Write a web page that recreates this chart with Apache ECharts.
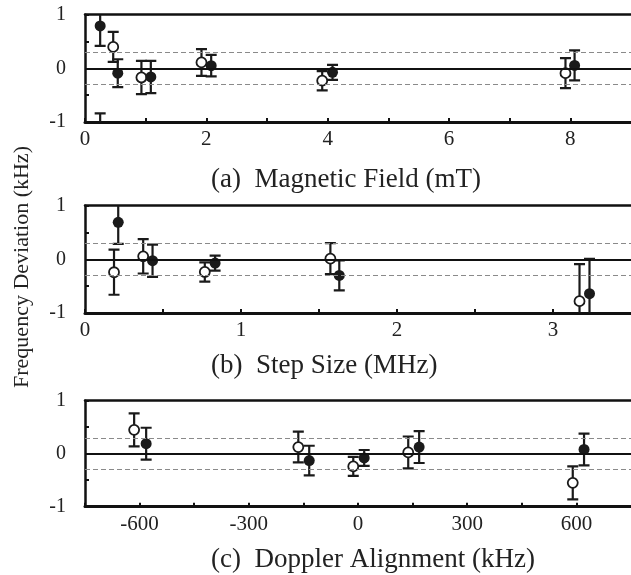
<!DOCTYPE html>
<html>
<head>
<meta charset="utf-8">
<script src="https://cdn.jsdelivr.net/npm/echarts@6/dist/echarts.min.js"></script>
<style>
html, body { margin: 0; padding: 0; background: #fff; }
#main { width: 631px; height: 575px; }
</style>
</head>
<body>
<div id="main"></div>
<script>
// (a) 磁场
var aOpenX = [0.25, 0.465, 0.93, 1.92, 3.91, 7.92];
var aOpenY = [-1.2, 0.40, -0.17, 0.11, -0.23, -0.09];
var aOpenE = [0.36, 0.28, 0.31, 0.25, 0.18, 0.28];
var aFillX = [0.25, 0.54, 1.085, 2.08, 4.08, 8.07];
var aFillY = [0.79, -0.09, -0.16, 0.05, -0.075, 0.055];
var aFillE = [0.37, 0.26, 0.30, 0.20, 0.14, 0.28];

// (b) 步长
var bOpenX = [0.186, 0.373, 0.768, 1.573, 3.17];
var bOpenY = [-0.24, 0.056, -0.235, 0.013, -0.78];
var bOpenE = [0.42, 0.32, 0.18, 0.29, 0.69];
var bFillX = [0.213, 0.433, 0.834, 1.63, 3.234];
var bFillY = [0.69, -0.025, -0.07, -0.30, -0.64];
var bFillE = [0.40, 0.30, 0.14, 0.28, 0.65];

// (c) 多普勒
var cOpenX = [-615, -164, -13, 138, 590];
var cOpenY = [0.45, 0.125, -0.24, 0.025, -0.55];
var cOpenE = [0.31, 0.29, 0.18, 0.30, 0.31];
var cFillX = [-582, -134, 17, 168, 621];
var cFillY = [0.19, -0.13, -0.08, 0.125, 0.08];
var cFillE = [0.30, 0.28, 0.15, 0.30, 0.30];

var titles = ['(a)  Magnetic Field (mT)', '(b)  Step Size (MHz)', '(c)  Doppler Alignment (kHz)'];
var yTitle = 'Frequency Deviation (kHz)';

var serif = '"Liberation Serif", "DejaVu Serif", serif';

function zip(xs, ys, es) {
	var out = [];
	for (var i = 0; i < xs.length; i++) out.push([xs[i], ys[i], es[i]]);
	return out;
}

function errRender(params, api) {
	var x = api.value(0), y = api.value(1), e = api.value(2);
	var top = api.coord([x, y + e]);
	var bot = api.coord([x, y - e]);
	var hw = 5.5;
	var st = { stroke: '#1a1a1a', lineWidth: 2.2 };
	return {
		type: 'group',
		children: [
			{ type: 'line', shape: { x1: top[0], y1: top[1], x2: bot[0], y2: bot[1] }, style: st },
			{ type: 'line', shape: { x1: top[0] - hw, y1: top[1], x2: top[0] + hw, y2: top[1] }, style: st },
			{ type: 'line', shape: { x1: bot[0] - hw, y1: bot[1], x2: bot[0] + hw, y2: bot[1] }, style: st }
		]
	};
}

var myChart = echarts.init(document.getElementById('main'));

var grids = [
	{ left: 85, top: 14.7, height: 107.3, right: -34.5 },
	{ left: 85, top: 205.7, height: 107.3, right: -17.5 },
	{ left: 85, top: 400.7, height: 106, right: 0 }
];
var xRanges = [
	{ min: 0, max: 9, interval: 1, fmt: function(v) { return v % 2 === 0 ? String(v) : ''; } },
	{ min: 0, max: 3.5, interval: 0.5, fmt: function(v) { return Number.isInteger(v) ? String(v) : ''; } },
	{ min: -750, max: 750, interval: 150, fmt: function(v) { return v % 300 === 0 ? String(v) : ''; } }
];
var panels = [
	[zip(aOpenX, aOpenY, aOpenE), zip(aFillX, aFillY, aFillE)],
	[zip(bOpenX, bOpenY, bOpenE), zip(bFillX, bFillY, bFillE)],
	[zip(cOpenX, cOpenY, cOpenE), zip(cFillX, cFillY, cFillE)]
];

var xAxes = [], yAxes = [], series = [];
grids.forEach(function(g, i) {
	var r = xRanges[i];
	xAxes.push({
		type: 'value', gridIndex: i, min: r.min, max: r.max, interval: r.interval,
		position: 'bottom',
		axisLine: { onZero: false, lineStyle: { color: '#111', width: 3 } },
		axisTick: { inside: true, length: 4, lineStyle: { color: '#111', width: 2 } },
		axisLabel: { formatter: r.fmt, color: '#222', fontFamily: serif, fontSize: 21, margin: 7, showMaxLabel: false },
		splitLine: { show: false }
	});
	xAxes.push({
		type: 'value', gridIndex: i, min: r.min, max: r.max, position: 'top',
		axisLine: { show: true, onZero: false, lineStyle: { color: '#111', width: 2.5 } },
		axisTick: { show: false }, axisLabel: { show: false }, splitLine: { show: false }
	});
	yAxes.push({
		type: 'value', gridIndex: i, min: -1, max: 1, interval: 0.5,
		axisLine: { show: true, onZero: false, lineStyle: { color: '#111', width: 2.5 } },
		axisTick: { show: true, inside: true, length: 4, lineStyle: { color: '#111', width: 2 } },
		axisLabel: {
			formatter: function(v) { return Number.isInteger(v) ? String(v) : ''; },
			color: '#222', fontFamily: serif, fontSize: 20, margin: 19
		},
		splitLine: { show: false }
	});

	// 参考线
	series.push({
		type: 'line', xAxisIndex: i * 2, yAxisIndex: i, data: [], silent: true,
		markLine: {
			silent: true, symbol: 'none', label: { show: false }, animation: false,
			data: [
				{ yAxis: 0, lineStyle: { color: '#111', width: 2, type: 'solid' } },
				{ yAxis: 0.3, lineStyle: { color: '#8a8a8a', width: 1, type: [5, 3] } },
				{ yAxis: -0.3, lineStyle: { color: '#8a8a8a', width: 1, type: [5, 3] } }
			]
		}
	});

	panels[i].forEach(function(d, k) {
		series.push({
			type: 'custom', xAxisIndex: i * 2, yAxisIndex: i, clip: true,
			renderItem: errRender, data: d, z: 3
		});
		series.push({
			type: 'scatter', xAxisIndex: i * 2, yAxisIndex: i, clip: true,
			symbol: 'circle', symbolSize: k === 0 ? 10 : 11, z: 4,
			itemStyle: k === 0
				? { color: '#fff', borderColor: '#1a1a1a', borderWidth: 1.8, opacity: 1 }
				: { color: '#1a1a1a', borderWidth: 0, opacity: 1 },
			data: d.map(function(p) { return [p[0], p[1]]; })
		});
	});
});

var titleY = [180, 366, 560];
var graphics = titles.map(function(t, i) {
	return {
		type: 'text', x: 211, y: titleY[i],
		style: { text: t, font: '27px ' + serif, fill: '#222', align: 'left', verticalAlign: 'middle' }
	};
});
graphics.push({
	type: 'text', x: 22, y: 267, rotation: Math.PI / 2,
	style: { text: yTitle, font: '22px ' + serif, fill: '#222', align: 'center', verticalAlign: 'middle' }
});

var option = {
	animation: false,
	backgroundColor: '#fff',
	grid: grids,
	xAxis: xAxes,
	yAxis: yAxes,
	series: series,
	graphic: graphics
};

myChart.setOption(option, true);
window.onresize = function() {
	myChart.resize();
};
</script>
</body>
</html>
